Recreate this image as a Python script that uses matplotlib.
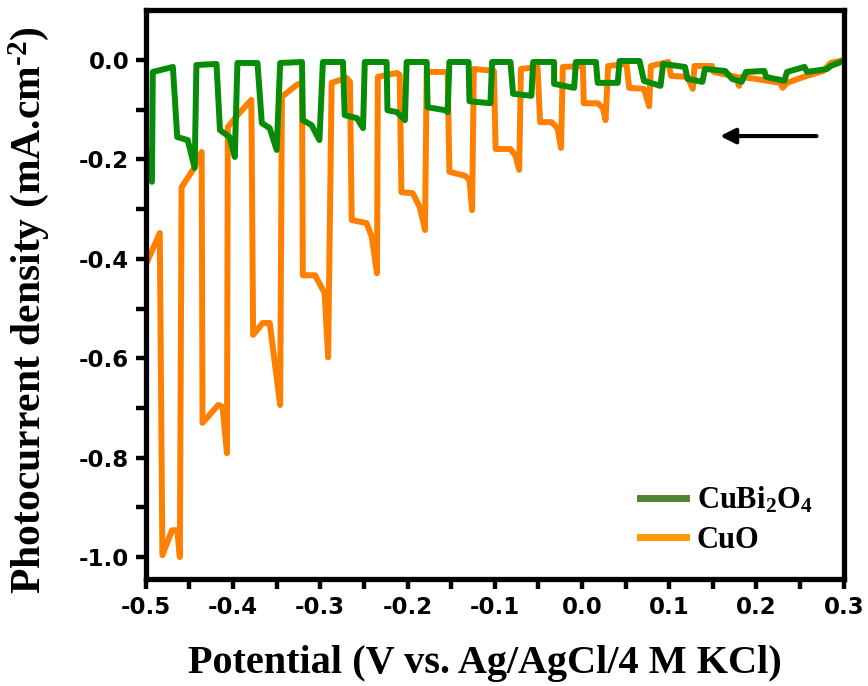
import numpy as np
import matplotlib
matplotlib.use('Agg')
import matplotlib.pyplot as plt
from matplotlib.lines import Line2D

#
# data (potential V, current mA/cm2)
#
cubi2o4_v = [-0.500, -0.493, -0.492, -0.469, -0.464, -0.452, -0.444, -0.442, -0.419, -0.415,
             -0.404, -0.398, -0.395, -0.372, -0.367, -0.358, -0.350, -0.346, -0.321, -0.320,
             -0.310, -0.301, -0.297, -0.274, -0.272, -0.258, -0.251, -0.249, -0.224, -0.223,
             -0.212, -0.203, -0.201, -0.178, -0.177, -0.157, -0.154, -0.152, -0.130, -0.129,
             -0.105, -0.103, -0.082, -0.079, -0.058, -0.056, -0.032, -0.032, -0.009, -0.007,
             0.016, 0.018, 0.041, 0.043, 0.066, 0.071, 0.090, 0.093, 0.118, 0.121,
             0.138, 0.141, 0.164, 0.172, 0.183, 0.188, 0.209, 0.211, 0.232, 0.235,
             0.255, 0.258, 0.281, 0.285, 0.300]
cubi2o4_j = [-0.175, -0.245, -0.024, -0.014, -0.155, -0.161, -0.217, -0.010, -0.008, -0.141,
             -0.155, -0.195, -0.006, -0.006, -0.127, -0.137, -0.181, -0.006, -0.004, -0.121,
             -0.131, -0.161, -0.004, -0.004, -0.111, -0.117, -0.137, -0.004, -0.004, -0.101,
             -0.105, -0.121, -0.004, -0.004, -0.095, -0.101, -0.105, -0.004, -0.004, -0.083,
             -0.087, -0.004, -0.004, -0.068, -0.072, -0.004, -0.004, -0.048, -0.056, -0.004,
             -0.004, -0.046, -0.046, -0.002, -0.002, -0.042, -0.052, -0.008, -0.014, -0.038,
             -0.044, -0.018, -0.022, -0.038, -0.044, -0.024, -0.022, -0.034, -0.042, -0.024,
             -0.014, -0.024, -0.018, -0.012, -0.002]

cuo_v = [-0.500, -0.484, -0.481, -0.470, -0.464, -0.461, -0.459, -0.446, -0.436, -0.435,
         -0.417, -0.412, -0.407, -0.406, -0.392, -0.379, -0.377, -0.366, -0.358, -0.346,
         -0.344, -0.327, -0.321, -0.320, -0.306, -0.295, -0.291, -0.287, -0.270, -0.266,
         -0.264, -0.247, -0.241, -0.235, -0.234, -0.212, -0.209, -0.207, -0.194, -0.186,
         -0.180, -0.178, -0.154, -0.152, -0.134, -0.129, -0.126, -0.124, -0.101, -0.099,
         -0.082, -0.076, -0.072, -0.070, -0.051, -0.048, -0.035, -0.028, -0.024, -0.022,
         0.001, 0.002, 0.018, 0.024, 0.027, 0.030, 0.051, 0.054, 0.071, 0.077,
         0.079, 0.099, 0.102, 0.121, 0.127, 0.129, 0.149, 0.151, 0.177, 0.180,
         0.182, 0.199, 0.227, 0.230, 0.235, 0.254, 0.277, 0.285, 0.300]
cuo_j = [-0.412, -0.348, -0.996, -0.946, -0.946, -1.000, -0.256, -0.221, -0.185, -0.730,
         -0.694, -0.698, -0.791, -0.135, -0.105, -0.080, -0.553, -0.529, -0.529, -0.694,
         -0.074, -0.050, -0.046, -0.433, -0.433, -0.469, -0.598, -0.046, -0.036, -0.044,
         -0.322, -0.328, -0.356, -0.429, -0.034, -0.026, -0.030, -0.266, -0.268, -0.296,
         -0.342, -0.024, -0.024, -0.225, -0.233, -0.241, -0.302, -0.018, -0.022, -0.179,
         -0.179, -0.193, -0.221, -0.018, -0.014, -0.125, -0.125, -0.137, -0.177, -0.014,
         -0.012, -0.087, -0.087, -0.097, -0.121, -0.012, -0.008, -0.056, -0.058, -0.093,
         -0.012, -0.004, -0.032, -0.034, -0.058, -0.012, -0.012, -0.024, -0.034, -0.052,
         -0.034, -0.038, -0.046, -0.056, -0.046, -0.034, -0.022, -0.006, 0.000]

x_ticks = [-0.5, -0.4, -0.3, -0.2, -0.1, 0.0, 0.1, 0.2, 0.3]
y_ticks = [-1.0, -0.8, -0.6, -0.4, -0.2, 0.0]

plt.rcParams['mathtext.fontset'] = 'custom'
plt.rcParams['mathtext.rm'] = 'Liberation Serif:bold'
plt.rcParams['mathtext.it'] = 'Liberation Serif:bold'
plt.rcParams['mathtext.bf'] = 'Liberation Serif:bold'

fig = plt.figure(figsize=(8.68, 6.86), dpi=100)
ax = fig.add_axes([0.168, 0.156, 0.804, 0.829])

ax.plot(cuo_v, cuo_j, color='#ff8000', lw=4.3, solid_joinstyle='round')
ax.plot(cubi2o4_v, cubi2o4_j, color='#078c07', lw=4.3, solid_joinstyle='round')

ax.set_xlim(-0.5, 0.3)
ax.set_ylim(-1.044, 0.1)
ax.set_xticks(x_ticks)
ax.set_xticks(np.arange(-0.45, 0.3, 0.1), minor=True)
ax.set_yticks(y_ticks)
ax.set_yticks([-0.9, -0.7, -0.5, -0.3, -0.1], minor=True)
ax.set_xticklabels([f'{t:.1f}' for t in x_ticks])
ax.set_yticklabels([f'{t:.1f}' for t in y_ticks])

for s in ax.spines.values():
    s.set_linewidth(3.8)
ax.tick_params(which='both', direction='out', length=7, width=3.2,
               top=False, right=False)
ax.tick_params(axis='y', pad=5)
ax.tick_params(axis='x', pad=5)
for lab in ax.get_xticklabels() + ax.get_yticklabels():
    lab.set_fontfamily('DejaVu Sans')
    lab.set_fontweight('bold')
    lab.set_fontsize(16.5)

ax.set_xlabel('Potential (V vs. Ag/AgCl/4 M KCl)', fontfamily='Liberation Serif',
              fontweight='bold', fontsize=29)
ax.set_ylabel(r'Photocurrent density (mA.cm$^{\text{-}2}$)', fontfamily='Liberation Serif',
              fontweight='bold', fontsize=30)
ax.xaxis.set_label_coords(0.486, -0.116)
ax.yaxis.set_label_coords(-0.136, 0.473)

# scan direction arrow
ax.annotate('', xy=(0.155, -0.153), xytext=(0.272, -0.153),
            arrowprops=dict(arrowstyle='-|>,head_length=0.9,head_width=0.45',
                            color='black', lw=3))

handles = [Line2D([], [], color='#548235', lw=5),
           Line2D([], [], color='#ff9900', lw=5)]
ax.legend(handles, [r'CuBi$_2$O$_4$', 'CuO'], loc='center left',
          bbox_to_anchor=(0.708, 0.104), frameon=False, borderpad=0,
          borderaxespad=0, handlelength=1.5, handletextpad=0.36,
          labelspacing=0.35, prop={'family': 'Liberation Serif', 'weight': 'bold', 'size': 22})

fig.savefig('out.png', dpi=100)
